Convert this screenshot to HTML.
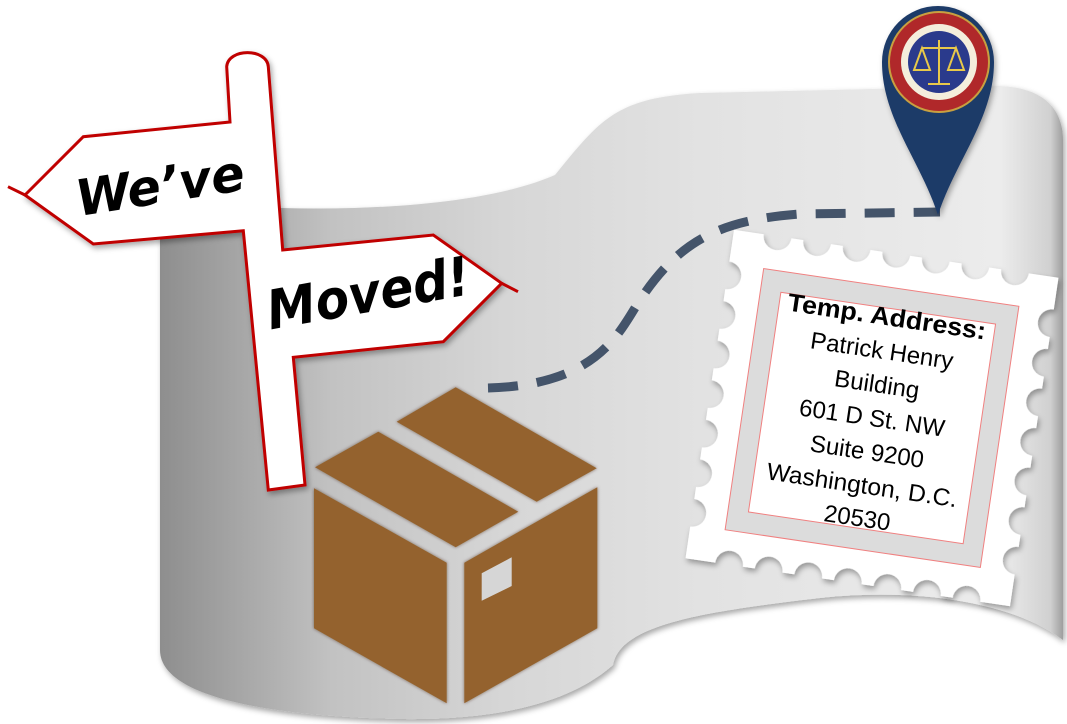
<!DOCTYPE html>
<html><head><meta charset="utf-8"><style>html,body{margin:0;padding:0;background:#fff}svg{display:block}</style></head>
<body>
<svg width="1067" height="724" viewBox="0 0 1067 724" xmlns="http://www.w3.org/2000/svg">
<defs>
<linearGradient id="bg" x1="160" y1="0" x2="1064" y2="0" gradientUnits="userSpaceOnUse">
<stop offset="0" stop-color="#8e8e8e"/><stop offset="0.19" stop-color="#c2c2c2"/><stop offset="0.38" stop-color="#d6d6d6"/><stop offset="0.6" stop-color="#e2e2e2"/><stop offset="0.93" stop-color="#ececec"/><stop offset="0.985" stop-color="#d0d0d0"/><stop offset="1" stop-color="#9a9a9a"/>
</linearGradient>
<filter id="sh" x="-10%" y="-10%" width="120%" height="120%"><feDropShadow dx="2" dy="3" stdDeviation="3" flood-color="#000" flood-opacity="0.35"/></filter>
<filter id="ish"><feDropShadow dx="0" dy="0" stdDeviation="1.5" flood-color="#3a2410" flood-opacity="0.6"/></filter>
<mask id="scal" maskUnits="userSpaceOnUse" x="-200" y="-200" width="400" height="400">
<rect x="-164" y="-166" width="328" height="332" fill="#fff"/>
<g fill="#000">
<circle cx="-120" cy="-166" r="14"/><circle cx="-80" cy="-166" r="14"/><circle cx="-40" cy="-166" r="14"/><circle cx="0" cy="-166" r="14"/><circle cx="40" cy="-166" r="14"/><circle cx="80" cy="-166" r="14"/><circle cx="120" cy="-166" r="14"/>
<circle cx="-120" cy="166" r="14"/><circle cx="-80" cy="166" r="14"/><circle cx="-40" cy="166" r="14"/><circle cx="0" cy="166" r="14"/><circle cx="40" cy="166" r="14"/><circle cx="80" cy="166" r="14"/><circle cx="120" cy="166" r="14"/>
<circle cx="-164" cy="-120" r="14"/><circle cx="-164" cy="-80" r="14"/><circle cx="-164" cy="-40" r="14"/><circle cx="-164" cy="0" r="14"/><circle cx="-164" cy="40" r="14"/><circle cx="-164" cy="80" r="14"/><circle cx="-164" cy="120" r="14"/>
<circle cx="164" cy="-120" r="14"/><circle cx="164" cy="-80" r="14"/><circle cx="164" cy="-40" r="14"/><circle cx="164" cy="0" r="14"/><circle cx="164" cy="40" r="14"/><circle cx="164" cy="80" r="14"/><circle cx="164" cy="120" r="14"/>
</g></mask>
</defs>

<path d="M160,200 C300,215 470,212 555,175 C600,120 615,98 700,93 L1000,86 C1045,88 1063,110 1063,140 L1063,640 C1010,600 910,588 820,598 C700,612 620,625 613,665 C560,712 470,720 400,719 C260,716 160,695 160,650 Z" fill="url(#bg)" filter="url(#sh)"/>

<path d="M488,388 C600,385 620,330 640,300 C680,240 720,220 800,214 L940,212" fill="none" stroke="#44546a" stroke-width="9" stroke-dasharray="30 19"/>

<g fill="#94622f" filter="url(#ish)">
<polygon points="455.7,387.3 596.7,468.3 536.7,501.7 396.7,421.7"/>
<polygon points="378.3,431.7 518.3,511.7 455.7,547.3 315,467.3"/>
<polygon points="314,488.3 446.7,562.7 446.7,703.3 314,628.3"/>
<polygon points="464.3,562.7 597.3,487.3 597.3,628.3 464.3,703.3"/>
</g>
<polygon points="481.7,573.3 511.7,557.3 511.7,586 481.7,600.7" fill="#d6d6d6"/>

<g filter="url(#sh)">
<path d="M230,122 L83.3,136.7 L25,195 L93.3,244 L243.3,230.7 L268.3,490 L305,485 L293.3,357.3 L443.3,341.7 L501.7,283.3 L433.3,235 L282.7,250 L268.3,66.7 C267,48 228,48 226.7,66.7 Z" fill="#fff" stroke="#c00000" stroke-width="3" stroke-linejoin="miter"/>
</g>
<line x1="8" y1="186.7" x2="25" y2="195" stroke="#c00000" stroke-width="3"/>
<line x1="501.7" y1="283.3" x2="518" y2="291.7" stroke="#c00000" stroke-width="3"/>
<text x="160" y="203" font-family="'DejaVu Sans', sans-serif" font-style="oblique" font-weight="bold" font-size="50" fill="#000" text-anchor="middle" transform="rotate(-9 160 185)" textLength="170" lengthAdjust="spacingAndGlyphs">We’ve</text>
<text x="368" y="312" font-family="'DejaVu Sans', sans-serif" font-style="oblique" font-weight="bold" font-size="54" fill="#000" text-anchor="middle" transform="rotate(-10 368 292)" textLength="205" lengthAdjust="spacingAndGlyphs">Moved!</text>

<g transform="translate(872,418) rotate(8.4)">
<g filter="url(#sh)"><rect x="-164" y="-166" width="328" height="332" fill="#fff" mask="url(#scal)"/></g>
<rect x="-129" y="-132" width="258" height="264" fill="#dcdcdc" stroke="#f08080" stroke-width="1"/>
<rect x="-108.5" y="-111" width="217" height="222" fill="#fff" stroke="#f08080" stroke-width="1"/>
<g font-family="'Liberation Sans', sans-serif" font-size="24" fill="#000" text-anchor="middle">
<text x="0" y="-94" font-weight="bold" font-size="25" textLength="200" lengthAdjust="spacingAndGlyphs">Temp. Address:</text>
<text x="0" y="-60">Patrick Henry</text>
<text x="0" y="-26">Building</text>
<text x="0" y="8">601 D St. NW</text>
<text x="0" y="42">Suite 9200</text>
<text x="0" y="76" textLength="192" lengthAdjust="spacingAndGlyphs">Washington, D.C.</text>
<text x="0" y="109">20530</text>
</g>
</g>

<g filter="url(#sh)">
<path d="M938,215 C920,160 882,118 882,62 A56,56 0 1 1 994,62 C994,118 956,160 938,215 Z" fill="#1f3a68"/>
</g>
<circle cx="939" cy="62" r="51" fill="#c8a040"/>
<circle cx="939" cy="62" r="49" fill="#b0282a"/>
<circle cx="939" cy="62" r="38" fill="#f4eedc"/>
<circle cx="939" cy="62" r="31" fill="#2a3a8c"/>
<g stroke="#e8c84a" stroke-width="2" fill="none">
<line x1="939" y1="40" x2="939" y2="84"/><line x1="922" y1="48" x2="956" y2="48"/>
<path d="M922,48 L914,70 L930,70 Z"/><path d="M956,48 L948,70 L964,70 Z"/>
<line x1="928" y1="84" x2="950" y2="84"/>
</g>
</svg>
</body></html>
